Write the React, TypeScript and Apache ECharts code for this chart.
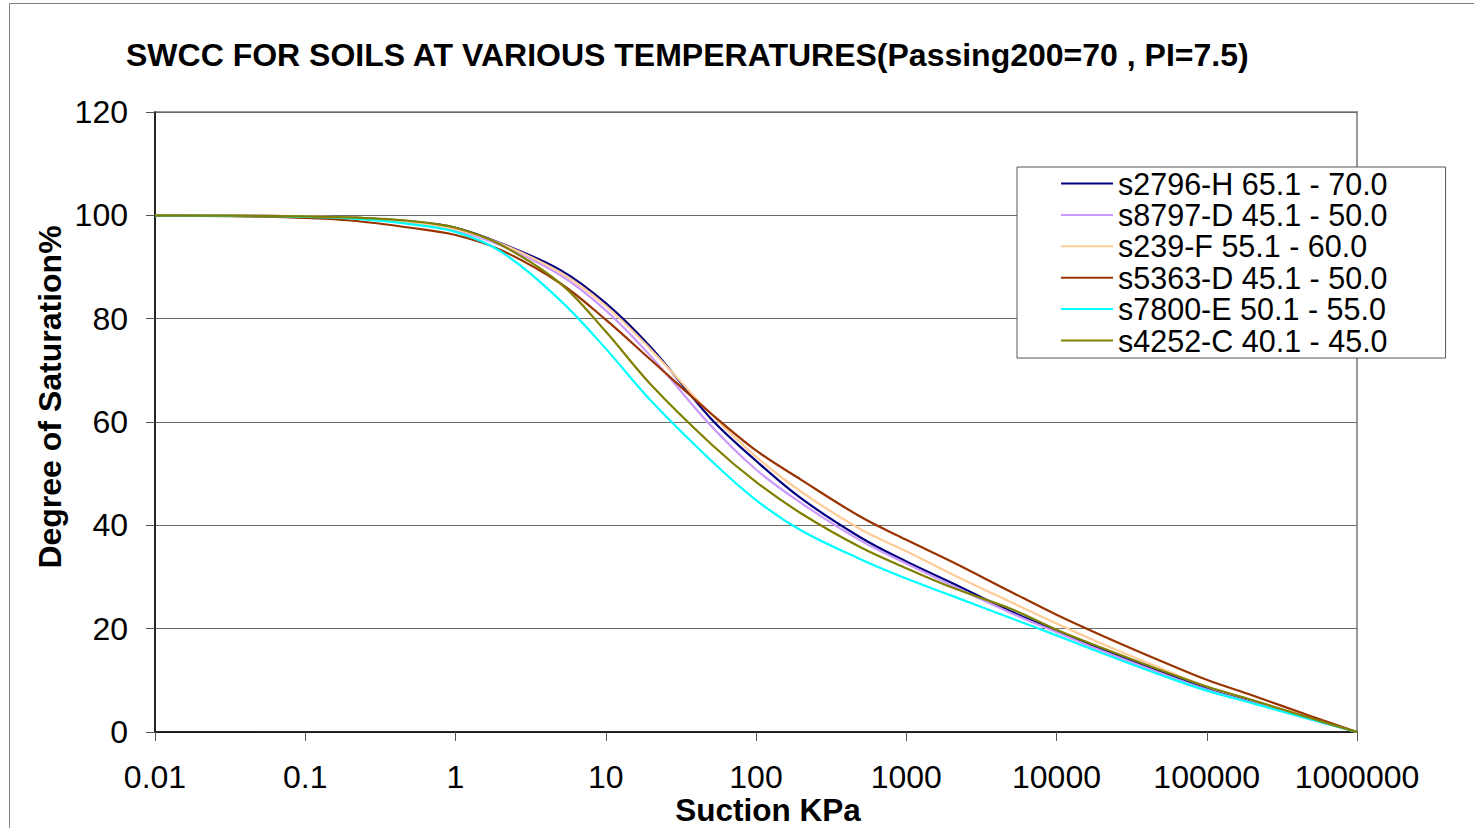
import React, { useEffect, useRef } from "react";
import * as echarts from "echarts";

const suction = [0.01, 0.02, 0.05, 0.1, 0.2, 0.5, 1, 2, 5, 10, 20, 50, 100, 200, 500, 1000, 2000, 5000, 10000, 20000, 50000, 100000, 200000, 500000, 1000000];

const s2796H = [100, 99.95, 99.9, 99.8, 99.6, 98.8, 97.6, 94.6, 89.4, 83.0, 74.4, 60.7, 52.5, 45.2, 37.6, 33.0, 28.9, 23.3, 19.6, 16.0, 11.6, 8.4, 5.9, 2.5, 0];
const s8797D = [100, 99.95, 99.9, 99.8, 99.5, 98.6, 97.1, 94.2, 88.4, 81.6, 72.7, 59.3, 50.8, 44.3, 37.0, 32.6, 28.4, 23.0, 19.3, 15.7, 11.3, 8.2, 5.7, 2.4, 0];
const s239F = [100, 99.95, 99.9, 99.8, 99.6, 98.7, 97.3, 94.5, 88.9, 82.5, 74.0, 61.6, 53.3, 46.5, 39.2, 35.0, 30.6, 25.1, 21.0, 17.1, 12.3, 8.8, 6.2, 2.6, 0];
const s5363D = [99.95, 99.9, 99.75, 99.5, 99.0, 97.6, 96.2, 93.3, 86.8, 79.8, 72.0, 61.7, 54.5, 48.8, 41.6, 37.2, 33.0, 27.1, 22.7, 18.7, 13.7, 10.1, 7.1, 3.0, 0];
const s7800E = [100, 99.95, 99.85, 99.7, 99.4, 98.3, 96.8, 93.0, 83.5, 74.2, 64.1, 52.6, 44.9, 39.0, 33.4, 29.7, 26.4, 22.0, 18.7, 15.3, 11.0, 8.0, 5.6, 2.4, 0];
const s4252C = [100, 99.95, 99.9, 99.8, 99.6, 98.9, 97.6, 94.3, 86.8, 77.5, 67.2, 55.8, 48.4, 42.3, 35.7, 31.7, 28.0, 23.8, 19.8, 16.3, 11.9, 8.8, 6.2, 2.6, 0];

const seriesNames = [
  "s2796-H 65.1 - 70.0",
  "s8797-D 45.1 - 50.0",
  "s239-F 55.1 - 60.0",
  "s5363-D 45.1 - 50.0",
  "s7800-E 50.1 - 55.0",
  "s4252-C 40.1 - 45.0",
];
const seriesValues = [s2796H, s8797D, s239F, s5363D, s7800E, s4252C];
const seriesColors = ["#000080", "#CC99FF", "#FFCC99", "#993300", "#00FFFF", "#808000"];

const xTickLabels = ["0.01", "0.1", "1", "10", "100", "1000", "10000", "100000", "1000000"];

const titleText = "SWCC FOR SOILS AT VARIOUS TEMPERATURES(Passing200=70 , PI=7.5)";
const xName = "Suction KPa";
const yName = "Degree of Saturation%";

const FONT = "'Liberation Sans', Arial, sans-serif";

export default function App() {
  const ref = useRef<HTMLDivElement>(null);
  useEffect(() => {
    if (!ref.current) return;
    const chart = echarts.init(ref.current, null, { renderer: "svg" });
    chart.setOption({
      animation: false,
      backgroundColor: "#ffffff",
      textStyle: { fontFamily: FONT },
      title: {
        text: titleText,
        left: 126,
        top: 39,
        padding: 0,
        textStyle: { fontFamily: FONT, fontSize: 32, fontWeight: "bold", color: "#000", lineHeight: 32 },
      },
      grid: {
        left: 155,
        right: 117,
        top: 112,
        bottom: 96,
        show: true,
        borderColor: "#9a9a9a",
        borderWidth: 2,
        backgroundColor: "transparent",
      },
      legend: {
        orient: "vertical",
        left: 1017,
        top: 167,
        padding: [1, 58, 2, 44],
        itemGap: 0.4,
        itemWidth: 52,
        itemHeight: 14,
        backgroundColor: "#ffffff",
        borderColor: "#555",
        borderWidth: 1,
        textStyle: { fontFamily: FONT, fontSize: 30.5, lineHeight: 30, color: "#000" },
        data: seriesNames.map((n) => ({ name: n, icon: "path://M0,6 L52,6 L52,8 L0,8 Z" })),
      },
      xAxis: {
        type: "log",
        logBase: 10,
        min: 0.01,
        max: 1000000,
        splitLine: { show: false },
        axisLine: { show: true, onZero: false, lineStyle: { color: "#000", width: 1.5 } },
        axisTick: { show: true, length: 9, lineStyle: { color: "#555" } },
        minorTick: { show: false },
        axisLabel: {
          margin: 32,
          fontFamily: FONT,
          fontSize: 32,
          lineHeight: 25,
          color: "#000",
          formatter: (v: number) => {
            const i = Math.round(Math.log10(v)) + 2;
            return xTickLabels[i] ?? "";
          },
        },
      },
      yAxis: {
        type: "value",
        min: 0,
        max: 120,
        interval: 20,
        axisLine: { show: true, lineStyle: { color: "#000", width: 1.5 } },
        axisTick: { show: true, length: 9, lineStyle: { color: "#555" } },
        splitLine: { show: true, lineStyle: { color: "#6b6b6b", width: 1 } },
        axisLabel: { margin: 27, fontFamily: FONT, fontSize: 32, color: "#000" },
      },
      graphic: [
        {
          type: "rect",
          silent: true,
          shape: { x: 9.5, y: 3.5, width: 1500, height: 900 },
          style: { fill: "none", stroke: "#808080", lineWidth: 1 },
          z: -1,
        },
        {
          type: "text",
          x: 768,
          y: 810,
          style: {
            text: xName,
            font: `bold 31.5px ${FONT}`,
            fill: "#000",
            textAlign: "center",
            textVerticalAlign: "middle",
          },
        },
        {
          type: "text",
          x: 50,
          y: 397,
          rotation: Math.PI / 2,
          style: {
            text: yName,
            font: `bold 32px ${FONT}`,
            fill: "#000",
            textAlign: "center",
            textVerticalAlign: "middle",
          },
        },
      ],
      series: seriesNames.map((name, si) => ({
        name,
        type: "line",
        data: suction.map((x, i) => [x, seriesValues[si][i]]),
        smooth: 0.35,
        symbol: "none",
        showSymbol: false,
        lineStyle: { color: seriesColors[si], width: 2.2 },
        itemStyle: { color: seriesColors[si] },
        clip: true,
      })),
    });
    return () => chart.dispose();
  }, []);
  return (
    <div
      ref={ref}
      style={{ position: "fixed", left: 0, top: 0, width: 1474, height: 828 }}
    />
  );
}
